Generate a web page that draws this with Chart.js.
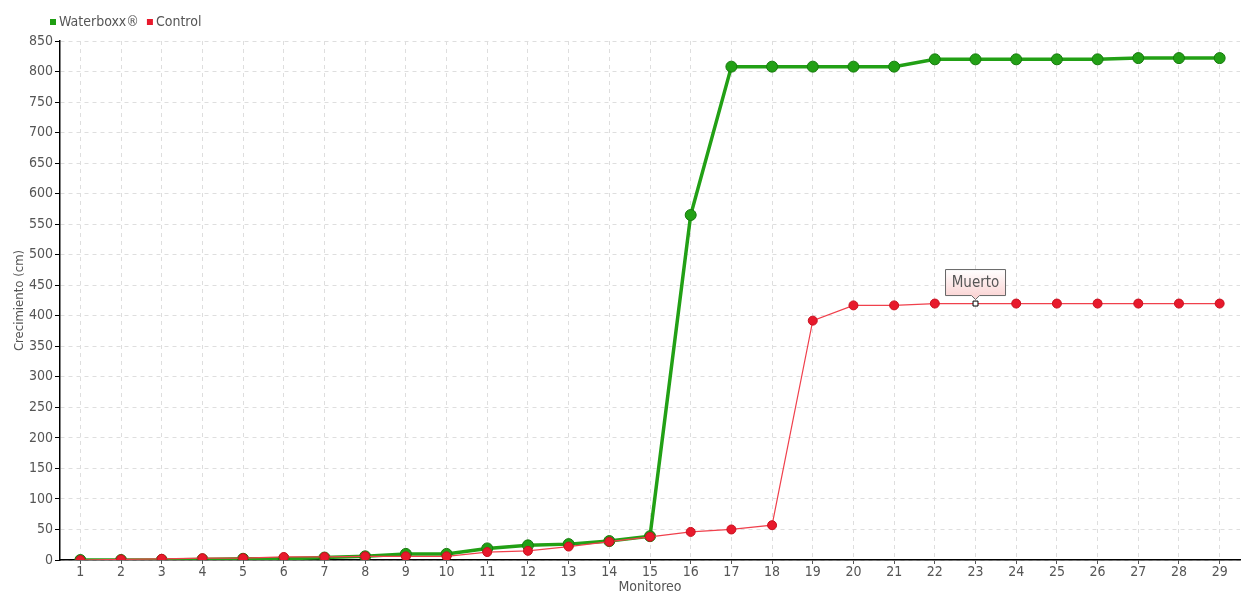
<!DOCTYPE html>
<html>
<head>
<meta charset="utf-8">
<script src="https://cdn.jsdelivr.net/npm/chart.js@4/dist/chart.umd.min.js"></script>
<style>
  html, body { margin: 0; padding: 0; background: #fff; }
  #wrap { width: 1260px; height: 600px; }
</style>
</head>
<body>
<div id="wrap"><canvas id="c" width="1260" height="600"></canvas></div>
<script>
const monitoreo = ['1','2','3','4','5','6','7','8','9','10','11','12','13','14','15','16','17','18','19','20','21','22','23','24','25','26','27','28','29'];
const waterboxx = [0, 0, 0, 1, 2, 2, 4, 6, 10, 10, 19, 24, 26, 31, 39, 565, 808, 808, 808, 808, 808, 820, 820, 820, 820, 820, 822, 822, 822];
const control = [0, 1, 2, 3, 3, 5, 5, 6, 6, 6, 13, 15, 22, 30, 38, 46, 50, 57, 392, 417, 417, 420, 420, 420, 420, 420, 420, 420, 420];
const yTicks = [0, 50, 100, 150, 200, 250, 300, 350, 400, 450, 500, 550, 600, 650, 700, 750, 800, 850];
const noteIndex = 22;
const noteText = 'Muerto';

const FONT = '"Liberation Sans Narrow", "DejaVu Sans Condensed", "Noto Sans", sans-serif';
Chart.defaults.font.family = FONT;
Chart.defaults.font.size = 14;
Chart.defaults.color = '#555';

// white square marker on the annotated point
const ctrlStyle = control.map((v, i) => i === noteIndex ? 'rect' : 'circle');
const ctrlRadius = control.map((v, i) => i === noteIndex ? 3.5 : 4.5);
const ctrlBg = control.map((v, i) => i === noteIndex ? '#fff' : '#e8192c');
const ctrlBorder = control.map((v, i) => i === noteIndex ? '#000' : '#c8101e');

// small square legend, top left
const legendPlugin = {
  id: 'miniLegend',
  afterDraw(chart) {
    const ctx = chart.ctx;
    ctx.save();
    ctx.font = '14px ' + FONT;
    ctx.textBaseline = 'middle';
    let x = 50;
    const y = 22;
    chart.data.datasets.forEach(ds => {
      ctx.fillStyle = ds.backgroundColor;
      ctx.fillRect(x, y - 3, 6, 6);
      ctx.fillStyle = '#555';
      ctx.fillText(ds.label, x + 9, y);
      x += 9 + ctx.measureText(ds.label).width + 8;
    });
    ctx.restore();
  }
};

const notePlugin = {
  id: 'note',
  afterDatasetsDraw(chart) {
    const pt = chart.getDatasetMeta(1).data[noteIndex];
    if (!pt) return;
    const ctx = chart.ctx;
    ctx.save();
    ctx.font = '15px ' + FONT;
    const w = 60, h = 26;
    const x0 = pt.x - w / 2, y1 = pt.y - 8, y0 = y1 - h;
    const g = ctx.createLinearGradient(0, y0, 0, y1);
    g.addColorStop(0, '#fff');
    g.addColorStop(1, '#fbd6d6');
    ctx.beginPath();
    ctx.moveTo(x0, y0);
    ctx.lineTo(x0 + w, y0);
    ctx.lineTo(x0 + w, y1);
    ctx.lineTo(pt.x + 4, y1);
    ctx.lineTo(pt.x, y1 + 4);
    ctx.lineTo(pt.x - 4, y1);
    ctx.lineTo(x0, y1);
    ctx.closePath();
    ctx.fillStyle = g;
    ctx.fill();
    ctx.strokeStyle = '#666';
    ctx.lineWidth = 1;
    ctx.stroke();
    ctx.fillStyle = '#555';
    ctx.textAlign = 'center';
    ctx.textBaseline = 'middle';
    ctx.fillText(noteText, pt.x, y0 + h / 2 + 1);
    ctx.restore();
  }
};

new Chart(document.getElementById('c'), {
  type: 'line',
  data: {
    labels: monitoreo,
    datasets: [{
      label: 'Waterboxx®',
      data: waterboxx,
      borderColor: '#22a015',
      backgroundColor: '#1f9e12',
      borderWidth: 3.5,
      pointRadius: 5.5,
      pointBackgroundColor: '#22a015',
      pointBorderColor: '#157a0c',
      pointBorderWidth: 1,
      tension: 0,
      order: 1
    }, {
      label: 'Control',
      data: control,
      borderColor: '#f0404c',
      backgroundColor: '#e8192c',
      borderWidth: 1.2,
      pointStyle: ctrlStyle,
      pointRadius: ctrlRadius,
      pointBackgroundColor: ctrlBg,
      pointBorderColor: ctrlBorder,
      pointBorderWidth: 1,
      tension: 0,
      order: 0
    }]
  },
  options: {
    responsive: false,
    animation: false,
    layout: { padding: { left: 12, right: 20, top: 41, bottom: 0 } },
    plugins: {
      legend: { display: false },
      tooltip: { enabled: false }
    },
    scales: {
      x: {
        offset: true,
        grid: {
          offset: false,
          color: '#dedede',
          tickColor: '#555',
          tickLength: 4,
          drawTicks: true
        },
        border: { color: '#000', width: 1.5, dash: [4, 4] },
        ticks: { padding: 0, maxRotation: 0, autoSkip: false, color: '#555' },
        title: { display: true, text: 'Monitoreo', padding: { top: 0, bottom: 4 }, color: '#555' },
        afterFit(scale) { scale.height = 40; }
      },
      y: {
        min: 0,
        max: 850,
        afterBuildTicks(scale) { scale.ticks = yTicks.map(v => ({ value: v })); },
        grid: {
          color: '#dedede',
          tickColor: '#000',
          tickLength: 5
        },
        border: { color: '#000', width: 1.5, dash: [4, 4] },
        ticks: { padding: 2, color: '#555' },
        title: { display: true, text: 'Crecimiento (cm)', padding: 0, color: '#555', font: { size: 13 } },
        afterFit(scale) { scale.width = 48; }
      }
    }
  },
  plugins: [notePlugin, legendPlugin]
});
</script>
</body>
</html>
